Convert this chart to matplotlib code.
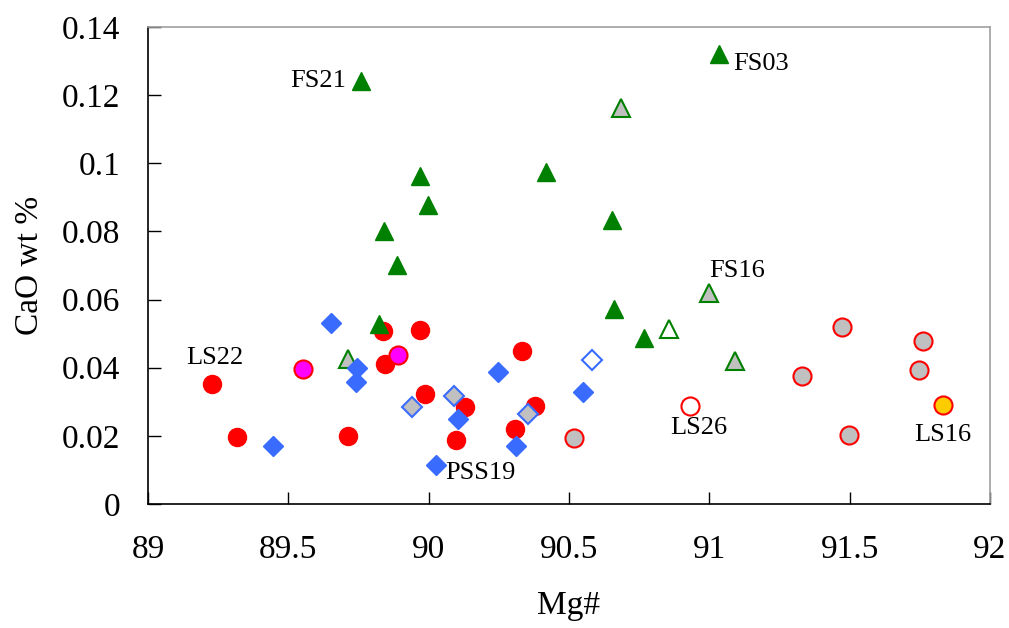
import matplotlib.pyplot as plt
from matplotlib.ticker import FuncFormatter

plt.rcParams['font.family'] = ['Liberation Serif', 'DejaVu Serif']

# red filled circles
red_x = [89.228, 89.317, 89.712, 89.837, 89.844, 89.969, 89.987, 90.129, 90.097, 90.332, 90.307, 90.379]
red_y = [0.0352, 0.0197, 0.0200, 0.0508, 0.0411, 0.0511, 0.0323, 0.0285, 0.0188, 0.0449, 0.0220, 0.0288]
# magenta circles
mag_x = [89.553, 89.892]
mag_y = [0.0396, 0.0437]
# grey circles, red edge
gcirc_x = [90.518, 91.329, 91.471, 91.497, 91.748, 91.760]
gcirc_y = [0.0195, 0.0376, 0.0518, 0.0201, 0.0393, 0.0479]
# open circle
ocirc_x = [90.932]
ocirc_y = [0.0288]
# yellow circle
ycirc_x = [91.831]
ycirc_y = [0.0291]

# green filled triangles
gtri_x = [89.759, 89.970, 89.996, 89.840, 89.887, 89.822, 90.417, 90.653, 90.659, 90.768, 91.035]
gtri_y = [0.1242, 0.0963, 0.0878, 0.0802, 0.0702, 0.0528, 0.0974, 0.0833, 0.0573, 0.0488, 0.1320]
# grey triangles
grtri_x = [89.714, 90.685, 90.999, 91.091]
grtri_y = [0.0425, 0.1161, 0.0620, 0.0421]
# open triangle
otri_x = [90.857]
otri_y = [0.0513]

# blue filled diamonds
bdia_x = [89.444, 89.652, 89.746, 89.740, 90.025, 90.106, 90.248, 90.310, 90.551]
bdia_y = [0.0170, 0.0532, 0.0398, 0.0359, 0.0114, 0.0249, 0.0387, 0.0171, 0.0328]
# grey diamonds
gdia_x = [89.939, 90.091, 90.355]
gdia_y = [0.0284, 0.0317, 0.0263]
# open diamond
odia_x = [90.581]
odia_y = [0.0423]

# sample labels: (text, x, y, offset in points, alignment)
labels = [
    ("FS21", 89.759, 0.1242, (-11, 0), 'right'),
    ("FS03", 91.035, 0.1320, (10, -7), 'left'),
    ("FS16", 90.999, 0.0620, (20, 16), 'center'),
    ("LS22", 89.228, 0.0352, (2, 19), 'center'),
    ("LS26", 90.932, 0.0288, (6, -16), 'center'),
    ("LS16", 91.831, 0.0291, (0, -22), 'center'),
    ("PSS19", 90.025, 0.0114, (7, -6), 'left'),
]

fig = plt.figure(figsize=(10.09, 6.28), dpi=100)
ax = fig.add_axes([0.1467, 0.1975, 0.8345, 0.7595])

red = '#ff0000'
green = '#008000'
blue = '#3a6bff'
grey = '#c0c0c0'
ms_c = 13
ms_t = 13
ms_d = 10

ax.plot(red_x, red_y, 'o', ms=ms_c, mfc=red, mec=red, mew=1)
ax.plot(mag_x, mag_y, 'o', ms=ms_c, mfc='#ff00ff', mec=red, mew=1.5)
ax.plot(gcirc_x, gcirc_y, 'o', ms=ms_c, mfc=grey, mec=red, mew=1.5)
ax.plot(ocirc_x, ocirc_y, 'o', ms=ms_c, mfc='white', mec=red, mew=1.5)
ax.plot(ycirc_x, ycirc_y, 'o', ms=ms_c, mfc='#ffcc00', mec=red, mew=1.5)

ax.plot(gtri_x, gtri_y, '^', ms=ms_t, mfc=green, mec=green, mew=1)
ax.plot(grtri_x, grtri_y, '^', ms=ms_t, mfc=grey, mec=green, mew=1.5)
ax.plot(otri_x, otri_y, '^', ms=ms_t, mfc='white', mec=green, mew=1.5)

ax.plot(bdia_x, bdia_y, 'D', ms=ms_d, mfc=blue, mec=blue, mew=1)
ax.plot(gdia_x, gdia_y, 'D', ms=ms_d, mfc=grey, mec=blue, mew=1.5)
ax.plot(odia_x, odia_y, 'D', ms=ms_d, mfc='white', mec=blue, mew=1.5)

for txt, lx, ly, off, ha in labels:
    ax.annotate(txt, (lx, ly), xytext=off, textcoords='offset points',
                ha=ha, va='center', fontsize=19)

ax.set_xlim(89, 92)
ax.set_ylim(0, 0.14)
ax.set_xticks([89, 89.5, 90, 90.5, 91, 91.5, 92])
ax.set_yticks([0, 0.02, 0.04, 0.06, 0.08, 0.1, 0.12, 0.14])
ax.yaxis.set_major_formatter(FuncFormatter(lambda v, p: '%g' % round(v, 2)))
ax.xaxis.set_major_formatter(FuncFormatter(lambda v, p: '%g' % v))
ax.tick_params(direction='in', length=9, width=1, labelsize=24)
ax.tick_params(axis='x', pad=22)
ax.tick_params(axis='y', pad=20)

for s in ['left', 'bottom']:
    ax.spines[s].set_color('black')
    ax.spines[s].set_linewidth(1.2)
for s in ['top', 'right']:
    ax.spines[s].set_color('#a0a0a0')
    ax.spines[s].set_linewidth(1.2)

ax.set_xlabel('Mg#', fontsize=24, labelpad=18)
ax.set_ylabel('CaO wt %', fontsize=24, labelpad=12)

fig.savefig('out.png', dpi=100)
